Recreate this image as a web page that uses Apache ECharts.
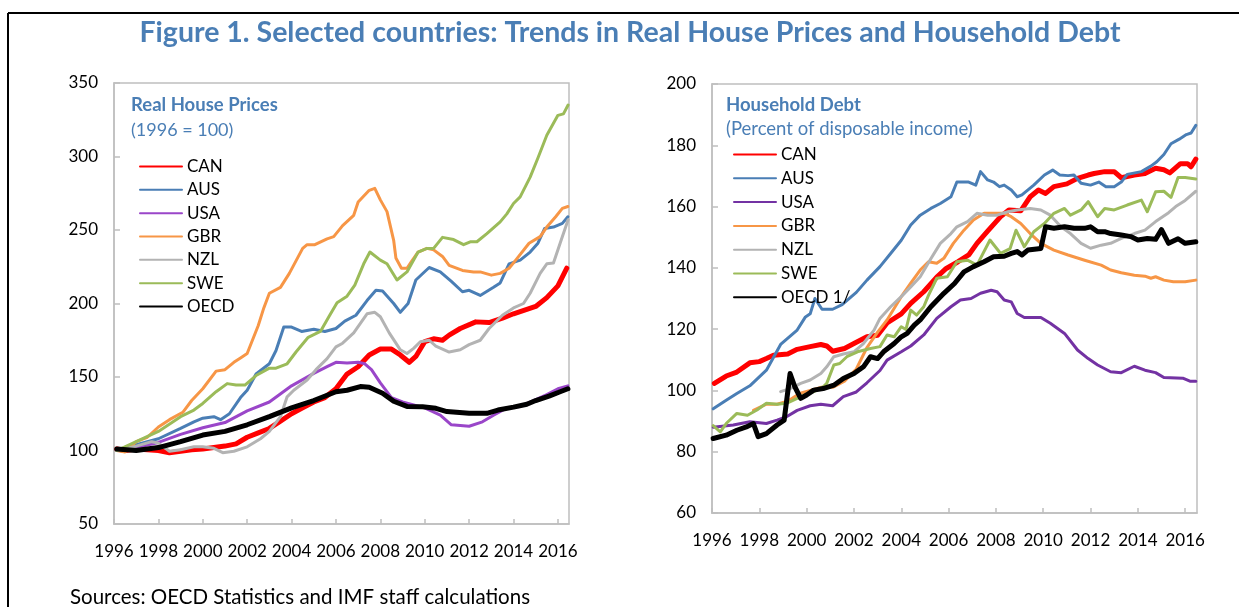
<!DOCTYPE html>
<html><head><meta charset="utf-8">
<script src="https://cdn.jsdelivr.net/npm/echarts@6/dist/echarts.min.js"></script>
<style>html,body{margin:0;padding:0;background:#fff}#c{width:1239px;height:607px}</style>
</head><body><div id="c"></div>
<script>
// ---------- Real House Prices (1996 = 100), [year, value] ----------
const canHP = [[1996.125,101],[1996.5,100],[1997,101],[1997.5,100.5],[1998,100],[1998.5,98.5],[1999,99.5],[1999.5,100.5],[2000,101],[2000.5,102],[2001,103],[2001.5,104.5],[2002,109],[2002.5,112],[2003,115],[2003.5,120],[2004,125],[2004.5,129],[2005,133],[2005.5,136],[2006,142],[2006.5,152],[2007,157],[2007.5,165],[2008,169],[2008.5,169],[2008.9,165],[2009.3,160],[2009.6,164],[2010,174],[2010.4,176],[2010.8,175],[2011.1,178.5],[2011.6,183],[2012.3,187.5],[2012.9,187],[2013.5,190],[2014,193],[2014.5,195.5],[2015,198],[2015.5,204],[2016,212],[2016.4,224]];
const ausHP = [[1996.125,100],[1997,104],[1998,108],[1999,115],[1999.6,119.5],[2000,122],[2000.5,123],[2000.8,121],[2001.2,125],[2001.7,136],[2002,141],[2002.4,152],[2003,159],[2003.3,168],[2003.65,184],[2004,184],[2004.45,181],[2005,182.5],[2005.5,181],[2006,183],[2006.4,188],[2006.9,192],[2007.4,202],[2007.8,209],[2008.1,208.5],[2008.6,200],[2008.9,194],[2009.25,200],[2009.6,216],[2010.2,224.5],[2010.7,221.5],[2011.2,215],[2011.7,208],[2012,209],[2012.5,205.5],[2013.1,211],[2013.4,214],[2013.8,227],[2014.3,229.5],[2014.75,235],[2015.1,241],[2015.4,251],[2015.8,252],[2016.2,254.5],[2016.45,259]];
const usaHP = [[1996.125,100],[1997,102],[1998,105.5],[1999,111],[2000,115.5],[2001,119],[2002,127],[2003,133],[2004,144],[2005,152.5],[2005.6,157],[2006,160],[2006.5,159.5],[2007,160],[2007.3,159],[2007.6,155],[2008,146],[2008.5,136],[2009,133],[2009.5,131],[2010,129],[2010.7,124],[2011.2,117.5],[2012,116.5],[2012.6,119.5],[2013.1,124],[2013.7,129],[2014.3,130],[2014.9,134],[2015.5,138],[2016,142],[2016.45,144]];
const gbrHP = [[1996.125,100],[1996.5,99],[1997,106],[1997.5,109],[1998,116],[1998.5,121],[1999.1,126],[1999.5,134],[2000,142],[2000.6,154],[2001,155],[2001.4,160],[2001.7,163],[2002,166],[2002.5,185],[2002.75,197],[2003,207],[2003.5,211],[2003.9,220.5],[2004.5,237.5],[2004.7,240],[2005.05,240],[2005.6,244],[2005.9,245.5],[2006.3,253],[2006.8,260],[2007,269],[2007.5,277],[2007.75,278.3],[2008,270.5],[2008.3,262.5],[2008.6,243],[2008.7,231],[2008.95,224],[2009.2,224],[2009.4,228.5],[2009.7,235],[2010.1,237.5],[2010.4,236.5],[2010.8,232],[2011.1,226],[2011.7,222.5],[2012.2,221.5],[2012.5,221.5],[2013,219.3],[2013.4,220.5],[2013.8,224],[2014.1,229.5],[2014.7,241],[2015.2,245.5],[2015.5,252],[2015.9,259],[2016.2,264.7],[2016.45,266]];
const nzlHP = [[1996.125,100],[1997,103],[1997.7,106],[1998,105],[1998.5,99.5],[1999,100.5],[1999.6,102.5],[2000,102.5],[2000.5,101.5],[2000.9,98.5],[2001.4,99.5],[2002,102.5],[2002.6,108],[2003,113],[2003.5,123],[2003.8,136.5],[2004.1,141],[2004.7,148],[2005.1,155],[2005.6,162.5],[2006,170.5],[2006.3,173],[2006.8,180],[2007.1,186.5],[2007.4,193],[2007.75,194],[2008,191],[2008.4,180],[2008.9,168.5],[2009.2,166],[2009.5,169.5],[2009.8,174],[2010.2,175],[2010.5,171],[2011.1,167],[2011.6,168.5],[2012,172],[2012.5,175],[2012.9,183],[2013.5,192],[2014,197],[2014.45,200],[2014.75,207],[2015.2,220.5],[2015.5,227],[2015.8,227.5],[2016.1,241],[2016.46,257]];
const sweHP = [[1996.125,100],[1997,106],[1998,113],[1999,123],[1999.6,127.5],[2000,132],[2000.6,140],[2001.1,145.5],[2001.5,144.5],[2001.9,144.5],[2002.4,151],[2003,156],[2003.3,156],[2003.8,159],[2004.2,167],[2004.75,177],[2005.3,181],[2005.7,191.5],[2006.05,200.5],[2006.5,205],[2006.85,212.5],[2007.25,227],[2007.53,235],[2008,229.5],[2008.3,227],[2008.75,216],[2009.2,221.5],[2009.7,235],[2010.1,237.5],[2010.4,237.5],[2010.8,245],[2011.3,243.5],[2011.75,240],[2012.05,242],[2012.35,242],[2012.8,247.5],[2013.4,255.5],[2013.7,261],[2014,268],[2014.3,272.5],[2014.75,286],[2015.1,299],[2015.5,314.5],[2016,328],[2016.25,329],[2016.46,335]];
const oecdHP = [[1996.125,101],[1997,100],[1998,102],[1999,106],[2000,110.5],[2001,113],[2002,117.5],[2003,123],[2004,129],[2005,134],[2006,140],[2006.5,141],[2007.1,143.5],[2007.5,143],[2008.1,139],[2008.6,133.5],[2009.2,130],[2009.9,129.8],[2010.5,128.7],[2011,126.5],[2012,125.3],[2012.8,125.3],[2013.3,127.5],[2014,129.5],[2014.6,131.5],[2015,134],[2015.6,137],[2016.1,140],[2016.45,142]];

// ---------- Household Debt (% of disposable income), [year, value] ----------
const canHD = [[1996.1,102.3],[1996.6,104.7],[1997.05,106],[1997.6,109],[1998,109.4],[1998.3,110.4],[1998.6,111.5],[1999.2,111.9],[1999.6,113.4],[2000.15,114.3],[2000.6,115],[2000.85,114.5],[2001.1,112.8],[2001.6,113.7],[2002,115.3],[2002.55,117.5],[2003,118],[2003.4,122],[2004,125],[2004.4,128.4],[2004.95,132.2],[2005.5,137],[2005.9,139.8],[2006.4,142],[2006.85,144.2],[2007.2,148],[2007.65,152],[2008.2,156.7],[2008.55,158.9],[2009.05,158.6],[2009.45,163.2],[2009.8,165.4],[2010.1,164.3],[2010.45,166.5],[2011,167.4],[2011.45,169.2],[2011.9,170.3],[2012.15,170.8],[2012.6,171.4],[2013,171.4],[2013.3,169.4],[2013.85,170.3],[2014.3,170.8],[2014.75,172.5],[2015.1,172],[2015.35,171],[2015.8,174],[2016.1,174],[2016.25,173],[2016.45,175.5]];
const ausHD = [[1996.05,94],[1996.6,96.8],[1997.05,99],[1997.6,101.5],[1998.3,106.6],[1998.9,115],[1999.6,119.7],[1999.95,124],[2000.15,125],[2000.35,130],[2000.65,126.5],[2001.1,126.5],[2001.5,128],[2002.1,132],[2002.55,136],[2003.1,140.4],[2003.55,144.7],[2004,149],[2004.4,154],[2004.8,157.2],[2005.25,159.4],[2005.65,161],[2006.1,163.2],[2006.35,168],[2006.85,168],[2007.15,167],[2007.35,171.4],[2007.65,168.7],[2007.9,168],[2008.15,166.5],[2008.35,167],[2008.65,165.4],[2008.9,163.2],[2009.1,163.8],[2009.6,167],[2010.05,170.3],[2010.4,171.9],[2010.7,170.3],[2011.05,170.1],[2011.3,170.3],[2011.6,167.6],[2012,167],[2012.35,168],[2012.65,166.5],[2013,166.5],[2013.3,168],[2013.55,170.5],[2014.15,171.4],[2014.55,173.2],[2014.8,174.6],[2015.1,177],[2015.4,180.5],[2015.75,182],[2016.05,183.5],[2016.25,184],[2016.45,186.5]];
const usaHD = [[1996.05,88],[1996.9,88.7],[1997.6,89.8],[1998.3,89.2],[1998.75,90.3],[1999.15,91.4],[1999.6,93.5],[2000.15,95],[2000.6,95.5],[2001.1,95],[2001.55,98],[2002.1,99.5],[2002.55,102.5],[2003.1,106.5],[2003.4,109.9],[2004,112.6],[2004.4,114.5],[2004.95,118.1],[2005.5,123.5],[2006.1,127.3],[2006.5,129.5],[2006.95,130],[2007.35,131.7],[2007.8,132.7],[2008.05,132.2],[2008.35,129.5],[2008.65,128.9],[2008.9,125.1],[2009.2,123.8],[2009.9,123.8],[2010.3,121.9],[2010.9,118.6],[2011.45,113.2],[2011.9,110.4],[2012.3,108.3],[2012.85,106.1],[2013.3,105.8],[2013.85,107.9],[2014.3,106.6],[2014.75,105.8],[2015.1,104.2],[2015.9,104],[2016.2,103],[2016.45,103]];
const gbrHD = [[1997.75,93.5],[1998.3,95.5],[1998.75,95.5],[1999.2,96.5],[1999.7,99],[2000.15,100],[2000.6,101],[2001.1,101],[2001.6,103],[2002.1,107],[2002.55,114],[2003,119],[2003.4,123],[2004,130.6],[2004.4,135],[2004.8,139.3],[2005.15,142],[2005.5,141.5],[2005.8,143.1],[2006.2,148],[2006.65,152.3],[2007.05,155.6],[2007.5,157.8],[2008.35,157.8],[2008.65,156.7],[2009.05,154.5],[2009.45,151.2],[2009.9,148],[2010.45,145.8],[2011.05,144.2],[2011.75,142.5],[2012.45,140.9],[2012.85,139.3],[2013.3,138.4],[2013.85,137.6],[2014.3,137.3],[2014.55,136.6],[2014.75,137.1],[2015.1,136],[2015.5,135.5],[2016,135.5],[2016.45,136]];
const nzlHD = [[1998.9,99.6],[1999.3,100.6],[1999.75,102.3],[2000.15,103.4],[2000.6,105.5],[2000.85,107.7],[2001.15,111],[2001.55,111.9],[2002,112.6],[2002.4,115.3],[2002.85,119.7],[2003.1,123.5],[2003.55,127.3],[2004,130.6],[2004.4,133.8],[2004.8,137.1],[2005.25,143],[2005.65,148],[2006.1,151.2],[2006.35,153.4],[2006.8,155.1],[2007.2,157.8],[2007.65,157.2],[2008.05,157.2],[2008.5,158.3],[2008.9,158.9],[2009.45,159.4],[2009.9,158.9],[2010.3,157.2],[2010.75,153.4],[2011.15,151.2],[2011.6,148],[2012,146.4],[2012.45,147.4],[2012.85,148],[2013.3,149.6],[2013.85,151.2],[2014.3,152.3],[2014.75,155.1],[2015.3,158],[2015.6,160],[2016,162],[2016.45,165]];
const sweHD = [[1996.05,88.5],[1996.35,86.5],[1996.6,89.2],[1997.05,92.5],[1997.5,91.9],[1997.9,93.6],[1998.3,95.8],[1998.75,95.5],[1999.15,95.8],[1999.6,97.4],[1999.9,98.5],[2000.3,99.6],[2000.7,101.2],[2000.85,102.3],[2001.15,108.3],[2001.4,108.8],[2001.7,111],[2002.15,112.6],[2002.7,113.7],[2003.1,114.3],[2003.4,118.1],[2003.7,117.5],[2004,120.8],[2004.2,119.9],[2004.4,126.2],[2004.65,124.6],[2004.95,127.3],[2005.15,131],[2005.5,136.6],[2005.95,137.1],[2006.35,142],[2006.8,142.5],[2007.2,140.9],[2007.75,149.1],[2008.2,144.7],[2008.6,146.3],[2008.85,152.3],[2009.2,146.9],[2009.6,151.8],[2010.05,154.5],[2010.45,157.8],[2010.9,159.4],[2011.15,157.2],[2011.6,158.9],[2011.9,161.6],[2012.3,156.7],[2012.6,159.4],[2013,158.9],[2013.55,160.5],[2014.15,162.1],[2014.4,158.3],[2014.75,164.8],[2015.1,165],[2015.4,163],[2015.7,169.5],[2016,169.5],[2016.45,169]];
const oecdHD = [[1996.05,84.3],[1996.6,85.4],[1997.05,87],[1997.45,88.1],[1997.75,89.2],[1997.95,84.9],[1998.3,85.9],[1998.75,88.7],[1999.05,90.3],[1999.3,105.5],[1999.5,101.2],[1999.75,97.4],[2000,98.5],[2000.3,100.1],[2000.7,100.6],[2001.15,101.7],[2001.55,103.9],[2002,105.5],[2002.4,107.7],[2002.7,111],[2003,110.4],[2003.25,112.6],[2003.7,115.3],[2004,117.5],[2004.25,118.6],[2004.55,121.3],[2004.8,123],[2005.25,127.3],[2005.8,131.7],[2006.25,134.9],[2006.65,138.7],[2007.05,140.4],[2007.5,142],[2007.9,143.6],[2008.35,143.8],[2008.65,144.7],[2008.9,145.3],[2009.1,144.2],[2009.35,145.8],[2009.9,146.3],[2010.1,153.4],[2010.45,152.9],[2010.9,153.4],[2011.3,152.9],[2011.75,152.9],[2012,153.4],[2012.3,151.8],[2012.6,151.8],[2012.85,151.2],[2013.3,150.7],[2013.7,150.2],[2014,149.1],[2014.4,149.6],[2014.75,149.3],[2015,152.5],[2015.3,148],[2015.7,149.5],[2016,148],[2016.45,148.5]];

const leftNames = ['CAN','AUS','USA','GBR','NZL','SWE','OECD'];
const rightNames = ['CAN ','AUS ','USA ','GBR ','NZL ','SWE ','OECD 1/'];
const leftData = [canHP, ausHP, usaHP, gbrHP, nzlHP, sweHP, oecdHP];
const rightData = [canHD, ausHD, usaHD, gbrHD, nzlHD, sweHD, oecdHD];
const leftColors = ['#ff0000','#4a7eb5','#9a46c9','#f79646','#b3b3b3','#9bbb59','#000000'];
const rightColors = ['#ff0000','#4a7eb5','#7332a3','#f79646','#b3b3b3','#9bbb59','#000000'];
const widths = [5,3,3,3,3,3,5];

const FONT = 'Lato';
const BLUE = '#4a7eb5';
const GREY = '#bfbfbf';

function makeSeries(names, data, colors, idx) {
  return names.map((n, i) => ({
    name: n, type: 'line', xAxisIndex: idx, yAxisIndex: idx,
    data: data[i], symbol: 'none', smooth: false, animation: false,
    lineStyle: { color: colors[i], width: widths[i], cap: 'round', join: 'round' },
    itemStyle: { color: colors[i] }, z: 2 + i
  }));
}
function xAx(idx) {
  return { type: 'value', gridIndex: idx, min: 1996, max: 2016.5, interval: 2,
    axisLine: { lineStyle: { color: GREY, width: 1.5 } },
    axisTick: { inside: true, length: 5, lineStyle: { color: GREY, width: 1.5 } },
    axisLabel: { showMaxLabel: false, formatter: v => String(v), color: '#000', fontSize: 17, fontFamily: FONT, margin: 19 },
    splitLine: { show: false } };
}
function yAx(idx, min, max, interval) {
  return { type: 'value', gridIndex: idx, min, max, interval,
    axisLine: { show: true, lineStyle: { color: GREY, width: 1.5 } },
    axisTick: { show: true, inside: true, length: 6, lineStyle: { color: GREY, width: 1.5 } },
    axisLabel: { color: '#000', fontSize: 17, fontFamily: FONT, margin: 16 },
    splitLine: { show: false } };
}
function legend(names, left, top, gap) {
  return { data: names, orient: 'vertical', left, top, padding: 0, itemWidth: 42, itemHeight: 14, itemGap: gap,
    selectedMode: false, itemStyle: { opacity: 0 },
    textStyle: { fontSize: 17, fontFamily: FONT, color: '#000' } };
}
function txt(x, y, s, size, bold, color, align) {
  return { type: 'text', x, y, silent: true, style: { text: s, fontSize: size, fontFamily: FONT,
    fontWeight: bold ? 'bold' : 'normal', fill: color, align: align || 'left', verticalAlign: 'middle' } };
}

const chart = echarts.init(document.getElementById('c'), null, { renderer: 'canvas' });
chart.setOption({
  animation: false,
  backgroundColor: '#fff',
  grid: [
    { left: 114, top: 83, width: 455, height: 441, show: true, borderColor: GREY, borderWidth: 1.5 },
    { left: 712, top: 84, width: 485, height: 429, show: true, borderColor: GREY, borderWidth: 1.5 }
  ],
  xAxis: [xAx(0), xAx(1)],
  yAxis: [yAx(0, 50, 350, 50), yAx(1, 60, 200, 20)],
  legend: [legend(leftNames, 139, 158, 6.33), legend(rightNames, 733, 146, 6.8)],
  series: [...makeSeries(leftNames, leftData, leftColors, 0), ...makeSeries(rightNames, rightData, rightColors, 1)],
  graphic: [
    { type: 'line', silent: true, shape: { x1: 8, y1: 13, x2: 1239, y2: 13 }, style: { stroke: '#000', lineWidth: 2 } },
    { type: 'line', silent: true, shape: { x1: 8, y1: 13, x2: 8, y2: 607 }, style: { stroke: '#000', lineWidth: 2 } },
    txt(630, 33, 'Figure 1. Selected countries: Trends in Real House Prices and Household Debt', 28.5, true, BLUE, 'center'),
    txt(131, 105, 'Real House Prices', 18.5, true, BLUE),
    txt(131, 130, '(1996 = 100)', 18, false, BLUE),
    txt(726, 105, 'Household Debt', 18.5, true, BLUE),
    txt(726, 129, '(Percent of disposable income)', 18.5, false, BLUE),
    txt(70, 597, 'Sources: OECD Statistics and IMF staff calculations', 20.5, false, '#000')
  ]
});
</script></body></html>
